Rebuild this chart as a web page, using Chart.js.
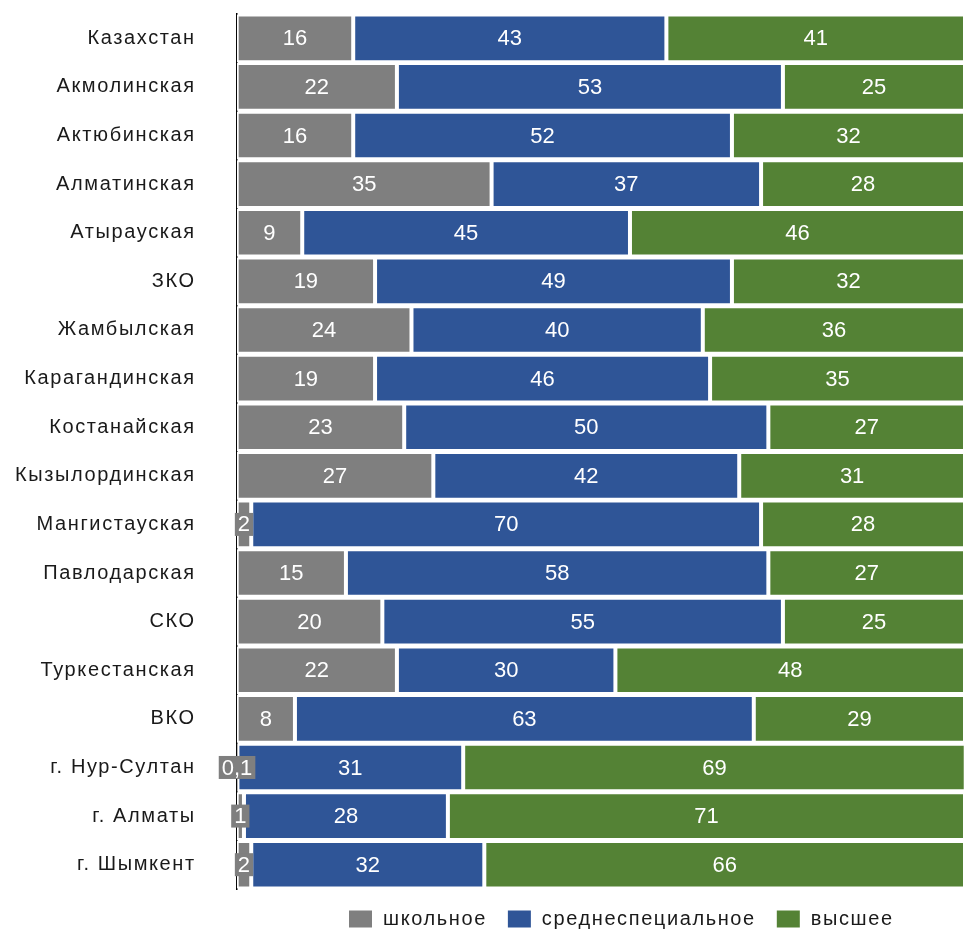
<!DOCTYPE html>
<html>
<head>
<meta charset="utf-8">
<script src="https://cdn.jsdelivr.net/npm/chart.js@4"></script>
<style>
  body { margin: 0; background: #fff; }
  #wrap { width: 965px; height: 929px; }
</style>
</head>
<body>
<div id="wrap"><canvas id="edu"></canvas></div>
<script>
var regions = ['Казахстан', 'Акмолинская', 'Актюбинская', 'Алматинская', 'Атырауская', 'ЗКО',
  'Жамбылская', 'Карагандинская', 'Костанайская', 'Кызылординская', 'Мангистауская',
  'Павлодарская', 'СКО', 'Туркестанская', 'ВКО', 'г. Нур-Султан', 'г. Алматы', 'г. Шымкент'];
var school = [16, 22, 16, 35, 9, 19, 24, 19, 23, 27, 2, 15, 20, 22, 8, 0.1, 1, 2];
var special = [43, 53, 52, 37, 45, 49, 40, 46, 50, 42, 70, 58, 55, 30, 63, 31, 28, 32];
var higher = [41, 25, 32, 28, 46, 32, 36, 35, 27, 31, 28, 27, 25, 48, 29, 69, 71, 66];

var FONT = '"Liberation Sans", Arial, sans-serif';

// wider lettering like the original
var spacing = {
  id: 'spacing',
  beforeUpdate: function(chart) { chart.ctx.letterSpacing = '1.6px'; },
  beforeDraw: function(chart) { chart.ctx.letterSpacing = '1.6px'; }
};

// value labels inside bars, small ones get a grey box
var barLabels = {
  id: 'barLabels',
  afterDatasetsDraw: function(chart) {
    var ctx = chart.ctx;
    ctx.save();
    ctx.letterSpacing = '0px';
    ctx.font = '22px ' + FONT;
    ctx.textAlign = 'center';
    ctx.textBaseline = 'middle';
    chart.data.datasets.forEach(function(ds, di) {
      var meta = chart.getDatasetMeta(di);
      meta.data.forEach(function(bar, i) {
        var txt = String(ds.data[i]).replace('.', ',');
        var left = Math.min(bar.x, bar.base);
        var w = Math.abs(bar.x - bar.base);
        var cx = left + w / 2;
        var tw = ctx.measureText(txt).width;
        if (tw + 4 > w) {
          ctx.fillStyle = '#7f7f7f';
          ctx.fillRect(cx - tw / 2 - 3, bar.y - 11.5, tw + 6, 23);
        }
        ctx.fillStyle = '#ffffff';
        ctx.fillText(txt, cx, bar.y + 1);
      });
    });
    ctx.restore();
  }
};

// move legend to sit under the plot area
var legendShift = {
  id: 'legendShift',
  beforeDraw: function(chart) {
    chart.legend.left = chart.chartArea.left + 20;
    chart.legend.right = chart.chartArea.right + 20;
  }
};

new Chart(document.getElementById('edu'), {
  type: 'bar',
  data: {
    labels: regions,
    datasets: [
      { label: 'школьное', data: school, backgroundColor: '#7f7f7f' },
      { label: 'среднеспециальное', data: special, backgroundColor: '#2f5597' },
      { label: 'высшее', data: higher, backgroundColor: '#548235' }
    ]
  },
  options: {
    indexAxis: 'y',
    responsive: true,
    maintainAspectRatio: false,
    animation: false,
    datasets: {
      bar: {
        borderColor: '#ffffff',
        borderWidth: 2,
        borderSkipped: false,
        barPercentage: 0.98,
        categoryPercentage: 1
      }
    },
    layout: { padding: { left: 13, top: 2, right: 0, bottom: -10 } },
    scales: {
      x: {
        stacked: true,
        min: 0,
        max: 100,
        display: false
      },
      y: {
        stacked: true,
        grid: { display: false, drawTicks: true, tickLength: 39 },
        border: { display: true, color: '#000000', width: 1.5 },
        ticks: { color: '#1a1a1a', padding: 2, font: { family: FONT, size: 20 } }
      }
    },
    plugins: {
      legend: {
        position: 'bottom',
        labels: {
          color: '#1a1a1a',
          boxWidth: 25,
          boxHeight: 19,
          padding: 20,
          font: { family: FONT, size: 20 }
        }
      },
      tooltip: { enabled: false }
    }
  },
  plugins: [spacing, barLabels, legendShift]
});
</script>
</body>
</html>
